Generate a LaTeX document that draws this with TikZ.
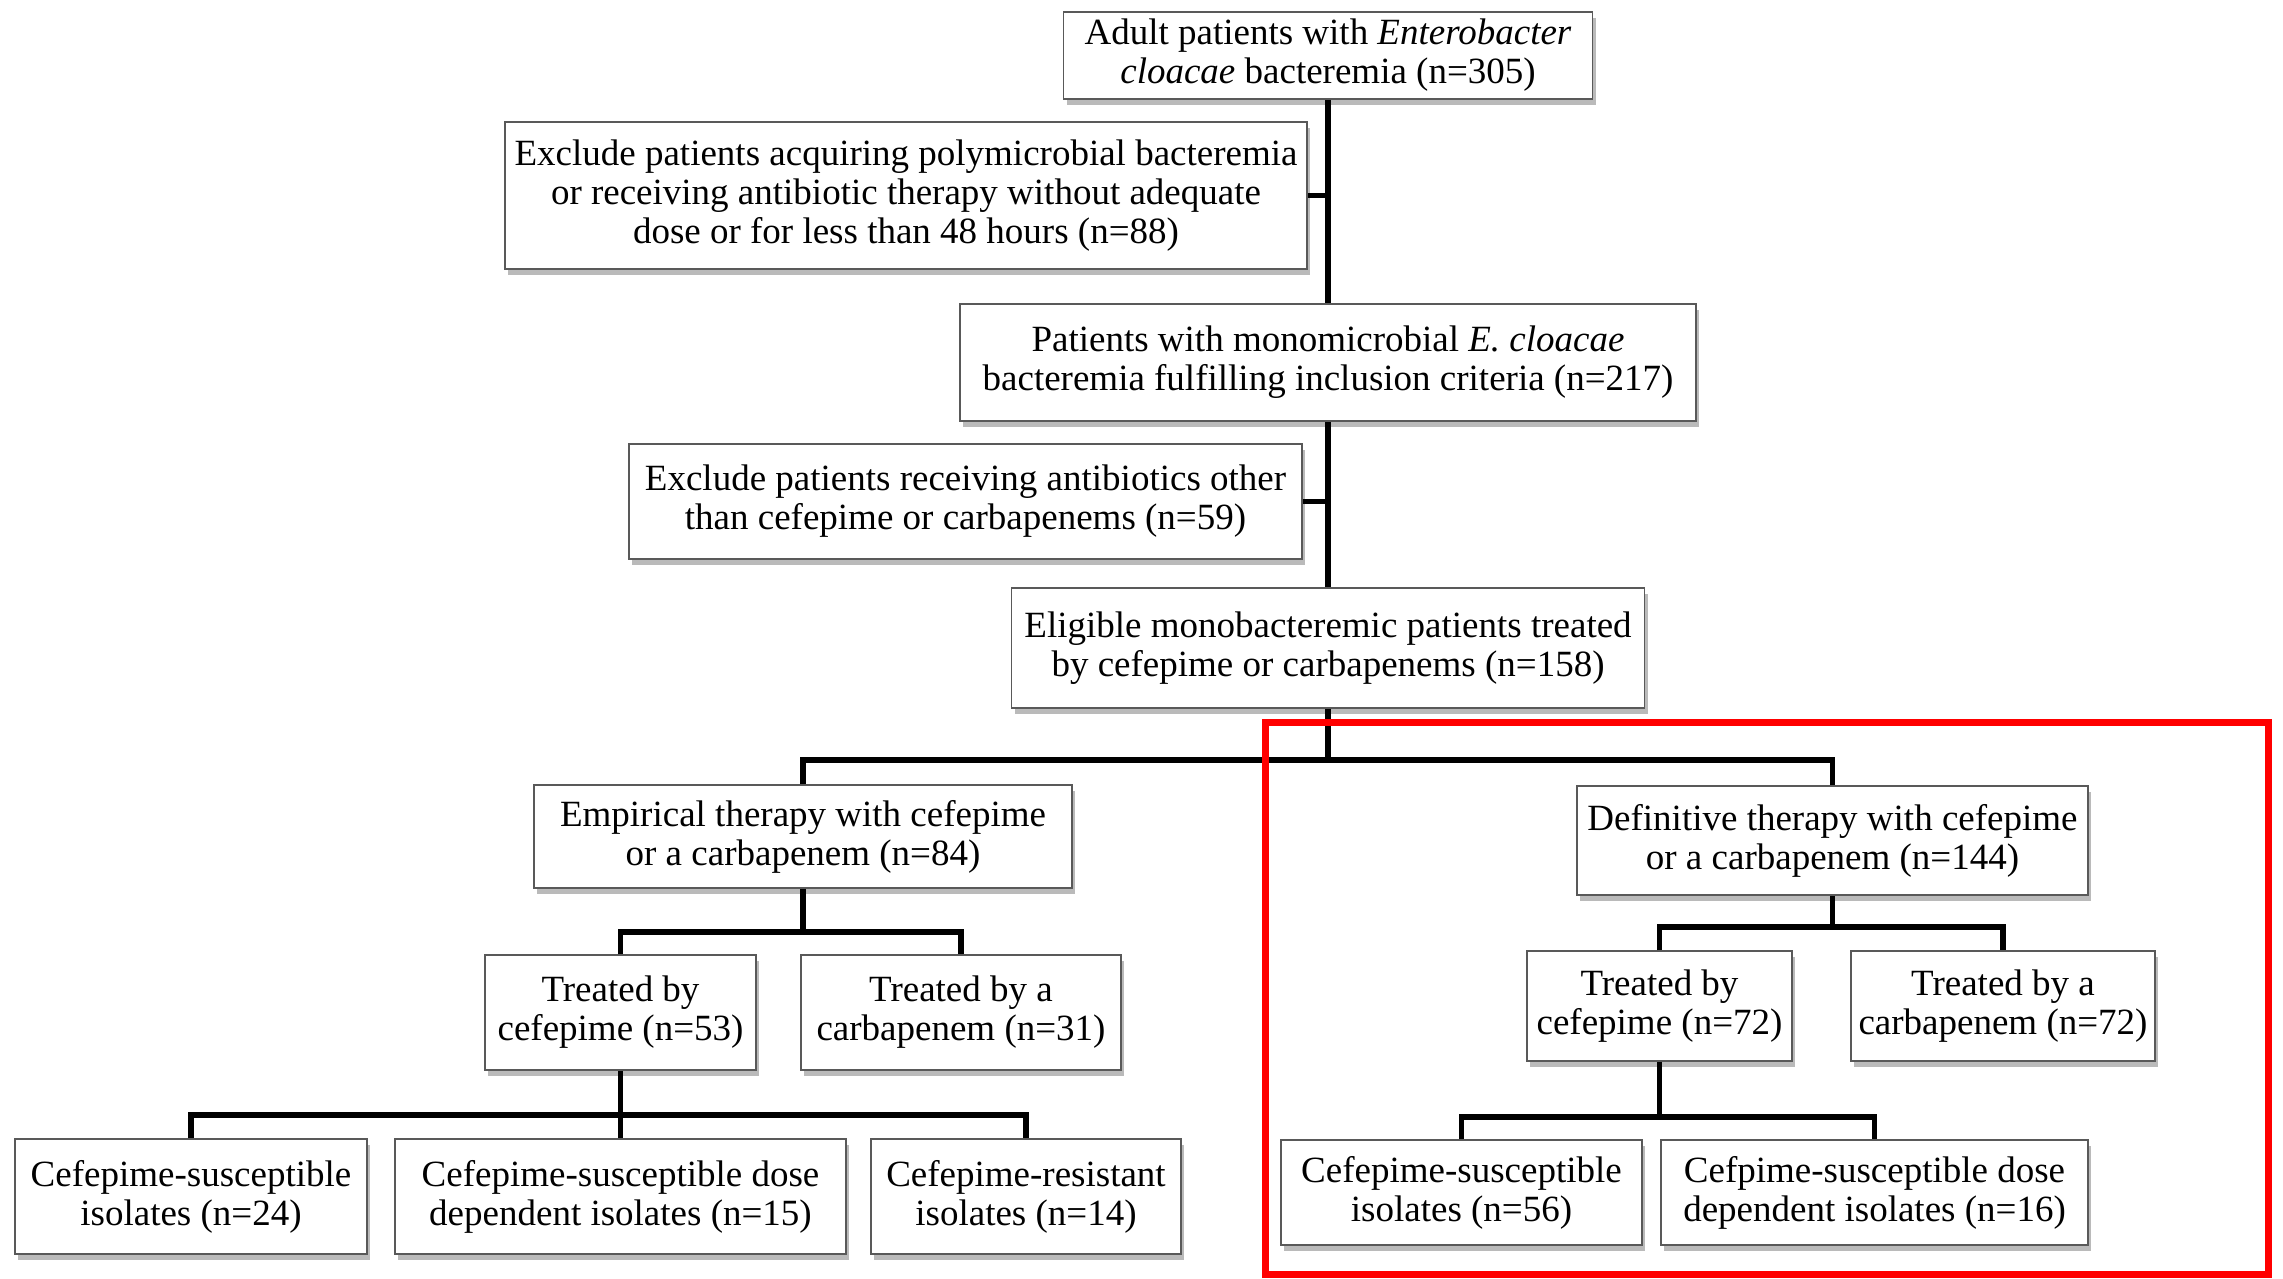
\documentclass[tikz,border=0pt]{standalone}
\usepackage{fontspec}
\setmainfont{Liberation Serif}
\usetikzlibrary{shadows}
\begin{document}
\begin{tikzpicture}[x=1pt,y=1pt,
  box/.style={draw=gray!70!black, line width=1.5pt, fill=white, align=center,
    font=\fontsize{37}{39}\selectfont, inner sep=0pt,
    drop shadow={shadow xshift=3pt, shadow yshift=-6pt, fill=gray!60, opacity=0.9}},
  conn/.style={line width=5.5pt, black}]
\useasboundingbox (0,0) rectangle (2283,-1278);
% main column
\node[box, minimum width=529, minimum height=87] (A) at (1328,-55.5)
  {Adult patients with \textit{Enterobacter}\\ \textit{cloacae} bacteremia (n=305)};
\node[box, minimum width=802, minimum height=147] (B) at (906,-195.5)
  {Exclude patients acquiring polymicrobial bacteremia\\ or receiving antibiotic therapy without adequate\\ dose or for less than 48 hours (n=88)};
\node[box, minimum width=736, minimum height=117] (C) at (1328,-362.5)
  {Patients with monomicrobial \textit{E. cloacae}\\ bacteremia fulfilling inclusion criteria (n=217)};
\node[box, minimum width=673, minimum height=115] (D) at (965.5,-501.5)
  {Exclude patients receiving antibiotics other\\ than cefepime or carbapenems (n=59)};
\node[box, minimum width=633, minimum height=120] (E) at (1328,-648)
  {Eligible monobacteremic patients treated\\ by cefepime or carbapenems (n=158)};
% second level
\node[box, minimum width=538, minimum height=103] (F) at (803,-836.5)
  {Empirical therapy with cefepime\\ or a carbapenem (n=84)};
\node[box, minimum width=511, minimum height=109] (G) at (1832.5,-840.5)
  {Definitive therapy with cefepime\\ or a carbapenem (n=144)};
% empirical branch
\node[box, minimum width=271, minimum height=115] (H) at (620.5,-1012.5)
  {Treated by\\ cefepime (n=53)};
\node[box, minimum width=320, minimum height=115] (I) at (961,-1012.5)
  {Treated by a\\ carbapenem (n=31)};
\node[box, minimum width=352, minimum height=115] (J) at (191,-1196.5)
  {Cefepime-susceptible\\ isolates (n=24)};
\node[box, minimum width=451, minimum height=115] (K) at (620.5,-1196.5)
  {Cefepime-susceptible dose\\ dependent isolates (n=15)};
\node[box, minimum width=310, minimum height=115] (L) at (1026,-1196.5)
  {Cefepime-resistant\\ isolates (n=14)};
% definitive branch
\node[box, minimum width=265, minimum height=110] (M) at (1659.5,-1006)
  {Treated by\\ cefepime (n=72)};
\node[box, minimum width=304, minimum height=110] (N) at (2003,-1006)
  {Treated by a\\ carbapenem (n=72)};
\node[box, minimum width=361, minimum height=105] (O) at (1461.5,-1192.5)
  {Cefepime-susceptible\\ isolates (n=56)};
\node[box, minimum width=427, minimum height=105] (P) at (1874.5,-1192.5)
  {Cefpime-susceptible dose\\ dependent isolates (n=16)};
% branch levels
\coordinate (b1) at (0,-760);
\coordinate (b2) at (0,-932);
\coordinate (b3) at (0,-1115);
\coordinate (b4) at (0,-927);
\coordinate (b5) at (0,-1117);
% connectors
\draw[conn] (A.south) -- (C.north);
\draw[conn] (C.south) -- (E.north);
\draw[conn] (B.east) -- (B.east -| A.south);
\draw[conn] (D.east) -- (D.east -| A.south);
\draw[conn] (E.south) -- (E.south |- b1);
\draw[conn] (F.north) -- (F.north |- b1) -- (G.north |- b1) -- (G.north);
\draw[conn] (F.south) -- (F.south |- b2);
\draw[conn] (H.north) -- (H.north |- b2) -- (I.north |- b2) -- (I.north);
\draw[conn] (H.south) -- (K.north);
\draw[conn] (J.north) -- (J.north |- b3) -- (L.north |- b3) -- (L.north);
\draw[conn] (G.south) -- (G.south |- b4);
\draw[conn] (M.north) -- (M.north |- b4) -- (N.north |- b4) -- (N.north);
\draw[conn] (M.south) -- (M.south |- b5);
\draw[conn] (O.north) -- (O.north |- b5) -- (P.north |- b5) -- (P.north);
% highlight
\draw[red, line width=7pt] (1265,-722) rectangle (2268,-1274);
\end{tikzpicture}
\end{document}
